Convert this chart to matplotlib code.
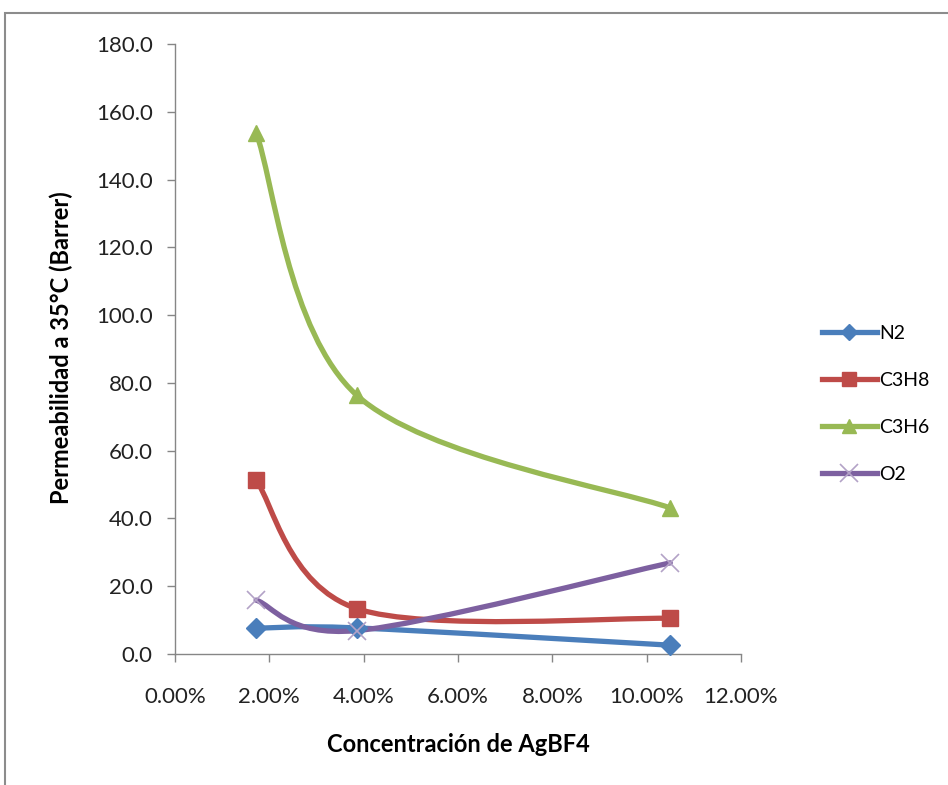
import matplotlib
matplotlib.use("Agg")
import matplotlib.pyplot as plt
from matplotlib.path import Path
from matplotlib.patches import PathPatch, Rectangle
from matplotlib.lines import Line2D
from matplotlib.ticker import FuncFormatter, MultipleLocator

plt.rcParams['font.family'] = ['Lato', 'DejaVu Sans']

# Data
conc = [0.0172, 0.0385, 0.105]
n2 = [7.6, 7.7, 2.6]
c3h8 = [51.2, 13.4, 10.5]
c3h6 = [153.8, 76.4, 43.1]
o2 = [15.9, 6.9, 26.9]

series_names = ['N2', 'C3H8', 'C3H6', 'O2']
series_vals = [n2, c3h8, c3h6, o2]
colors = ['#4a7ebb', '#be4b48', '#98b954', '#7d60a0']
markers = ['D', 's', '^', 'x']
msizes = [10, 12, 12, 13]


def smooth_path(xs, ys):
    # Excel-like smoothed line: cubic bezier through the points
    pts = list(zip(xs, ys))
    n = len(pts)
    verts = [pts[0]]
    codes = [Path.MOVETO]
    for i in range(n - 1):
        p0 = pts[i - 1] if i > 0 else pts[i]
        p1 = pts[i]
        p2 = pts[i + 1]
        p3 = pts[i + 2] if i + 2 < n else pts[i + 1]
        c1 = (p1[0] + (p2[0] - p0[0]) / 6, p1[1] + (p2[1] - p0[1]) / 6)
        c2 = (p2[0] - (p3[0] - p1[0]) / 6, p2[1] - (p3[1] - p1[1]) / 6)
        verts += [c1, c2, p2]
        codes += [Path.CURVE4] * 3
    return Path(verts, codes)


fig = plt.figure(figsize=(9.48, 7.85), dpi=100)
ax = fig.add_axes([175 / 948, 1 - 654 / 785, (741 - 175) / 948, (654 - 44) / 785])

# outer chart frame (only top and left edges visible)
fig.patches.append(Rectangle((5 / 948, -0.1), 2, 1.1 - 13 / 785, transform=fig.transFigure,
                             fill=False, edgecolor='#8c8c8c', linewidth=1.5))

handles = []
for name, vals, col, mk, ms in zip(series_names, series_vals, colors, markers, msizes):
    ax.add_patch(PathPatch(smooth_path(conc, vals), facecolor='none', edgecolor=col,
                           linewidth=3.8, capstyle='round', joinstyle='round', zorder=3))
    if mk == 'x':
        ax.plot(conc, vals, linestyle='none', marker='x', markersize=ms,
                markeredgecolor='#b3a2c7', markeredgewidth=1.2, zorder=4, clip_on=False)
        h = Line2D([], [], color=col, linewidth=3.8, marker='x', markersize=ms,
                   markeredgecolor='#b3a2c7', markeredgewidth=1.2)
    else:
        ax.plot(conc, vals, linestyle='none', marker=mk, markersize=ms,
                markerfacecolor=col, markeredgecolor=col, zorder=4, clip_on=False)
        h = Line2D([], [], color=col, linewidth=3.8, marker=mk, markersize=ms * 0.8,
                   markerfacecolor=col, markeredgecolor=col)
    handles.append(h)

ax.set_xlim(0, 0.12)
ax.set_ylim(0, 180)
ax.xaxis.set_major_locator(MultipleLocator(0.02))
ax.yaxis.set_major_locator(MultipleLocator(20))
ax.xaxis.set_major_formatter(FuncFormatter(lambda v, p: '{:.2f}%'.format(v * 100)))
ax.yaxis.set_major_formatter(FuncFormatter(lambda v, p: '{:.1f}'.format(v)))

for s in ['top', 'right']:
    ax.spines[s].set_visible(False)
for s in ['left', 'bottom']:
    ax.spines[s].set_color('#868686')
    ax.spines[s].set_linewidth(1.0)
ax.tick_params(axis='both', colors='#868686', labelcolor='#222222', labelsize=16,
               length=6, width=1.0, direction='out')
ax.tick_params(axis='x', pad=18)
ax.tick_params(axis='y', pad=10)

fig.text(458 / 948, 1 - 745 / 785, 'Concentración de AgBF4', fontsize=17, fontweight='bold',
         ha='center', va='center')
fig.text(61 / 948, 1 - 348 / 785, 'Permeabilidad a 35°C (Barrer)', fontsize=17, fontweight='bold',
         ha='center', va='center', rotation=90)

leg = fig.legend(handles, series_names, loc='center left', bbox_to_anchor=(812 / 948, 1 - 404 / 785),
                 frameon=False, fontsize=14, handlelength=2.85, labelspacing=1.55,
                 handletextpad=0.1, borderpad=0)

fig.savefig('out.png', dpi=100)
